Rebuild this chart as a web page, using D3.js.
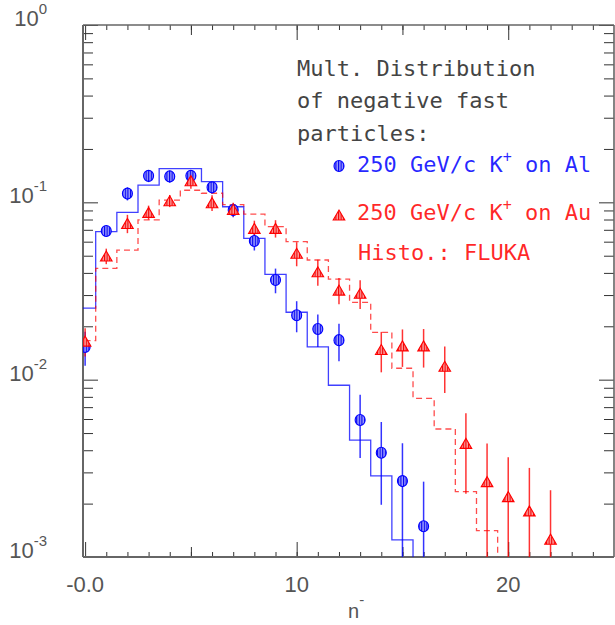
<!DOCTYPE html>
<html><head><meta charset="utf-8">
<script src="https://cdn.jsdelivr.net/npm/d3@7"></script>
<style>body{margin:0;background:#fff}svg{display:block}</style>
</head><body>
<svg id="c" width="615" height="625"></svg>
<script>
// ---- data ----
const blueN    = [0,1,2,3,4,5,6,7,8,9,10,11,12,13,14,15,16];
const blueVals = [0.0153,0.0689,0.112,0.141,0.140,0.141,0.1215,0.0905,0.0605,0.0365,0.0231,0.0193,0.0167,0.00592,0.00387,0.00268,0.00149];
const blueErr  = [0.0033,0.005,0.0095,0.011,0.011,0.011,0.009,0.008,0.007,0.0058,0.0046,0.004,0.004,0.0023,0.0019,0.0017,0.00117];
const redN     = [0,1,2,3,4,5,6,7,8,9,10,11,12,13,14,15,16,17,18,19,20,21,22];
const redVals  = [0.0165,0.0498,0.076,0.0878,0.102,0.1324,0.0995,0.0913,0.0713,0.0713,0.0516,0.0406,0.032,0.0307,0.0148,0.0155,0.0155,0.0119,0.00437,0.00266,0.00219,0.00182,0.00126];
const redErr   = [0.003,0.005,0.009,0.008,0.008,0.013,0.01,0.008,0.0075,0.008,0.008,0.0068,0.0054,0.0057,0.0038,0.0037,0.0038,0.0035,0.0021,0.0017,0.00146,0.00136,0.00112];
// FLUKA histograms, bins centred on integers (width 1)
const blueHist = [0.0253,0.0684,0.0877,0.125,0.155,0.155,0.1307,0.0944,0.0626,0.0392,0.0240,0.0153,0.0093,0.00456,0.00287,0.00125];
const redHist  = [0.0166,0.0424,0.0538,0.0797,0.103,0.117,0.1125,0.097,0.0859,0.073,0.060,0.0473,0.0369,0.0273,0.0185,0.0116,0.00785,0.00527,0.00234,0.00141];
const xTickLabels = [{v:0,t:"-0.0"},{v:10,t:"10"},{v:20,t:"20"}];
const yTickLabels = [{v:1,e:"0"},{v:0.1,e:"-1"},{v:0.01,e:"-2"},{v:0.001,e:"-3"}];
const legendLines = ["Mult. Distribution","of negative fast","particles:"];

// ---- layout ----
const L=83,R=614,T=25,B=557;
const x = d3.scaleLinear().domain([-0.1,25]).range([L,R]);
const y = d3.scaleLog().domain([1e-3,1]).range([B,T]);
const svg = d3.select("#c");
const BLUE="#0000ff", RED="#ff0000", AX="#666";

svg.append("defs").html(`
 <clipPath id="clip"><rect x="${L}" y="${T}" width="${R-L}" height="${B-T}"/></clipPath>
 <pattern id="hb" width="2.6" height="4" patternUnits="userSpaceOnUse"><rect width="2.6" height="4" fill="#9a9aff"/><rect width="1.1" height="4" fill="#0000ee"/></pattern>
 <pattern id="hr" width="2.6" height="4" patternUnits="userSpaceOnUse"><rect width="2.6" height="4" fill="#ff9a9a"/><rect width="1.1" height="4" fill="#ee0000"/></pattern>`);

// ---- axes ticks ----
const units = d3.range(1,25), fives=[5,15], tens=[0,10,20];
function xAxes(gen, sign, ty){
  [[units,5],[fives,10],[tens,15]].forEach(([vals,len])=>{
    const g=svg.append("g").attr("transform",`translate(0,${ty})`)
      .call(gen(x).tickValues(vals).tickSize(sign*len).tickFormat(""));
    g.select(".domain").remove();
    g.selectAll("line").attr("stroke","#333").attr("stroke-width",1);
  });
}
xAxes(d3.axisBottom,-1,B);
xAxes(d3.axisTop,-1,T);
const minorY=[], majorY=[1e-3,1e-2,1e-1,1];
[1e-3,1e-2,1e-1].forEach(d=>{for(let k=2;k<=9;k++)minorY.push(d*k);});
function yAxes(gen, tx){
  [[minorY,10],[majorY,15]].forEach(([vals,len])=>{
    const g=svg.append("g").attr("transform",`translate(${tx},0)`)
      .call(gen(y).tickValues(vals).tickSize(-len).tickFormat(""));
    g.select(".domain").remove();
    g.selectAll("line").attr("stroke","#333").attr("stroke-width",1);
  });
}
yAxes(d3.axisLeft,L);
yAxes(d3.axisRight,R);

// frame
svg.append("line").attr("x1",L).attr("x2",L).attr("y1",T).attr("y2",B).attr("stroke",AX).attr("stroke-width",2);
svg.append("line").attr("x1",L).attr("x2",R).attr("y1",B).attr("y2",B).attr("stroke",AX).attr("stroke-width",2.2);
svg.append("line").attr("x1",L).attr("x2",R).attr("y1",T).attr("y2",T).attr("stroke",AX).attr("stroke-width",1.4);
svg.append("line").attr("x1",R).attr("x2",R).attr("y1",T).attr("y2",B).attr("stroke",AX).attr("stroke-width",1.6);

// tick labels
const lf="'Liberation Sans', Arial, sans-serif";
yTickLabels.forEach(d=>{
  const t=svg.append("text").attr("x",47).attr("y",y(d.v)+1).attr("text-anchor","end")
    .attr("font-family",lf).attr("font-size",22).attr("fill","#555");
  t.append("tspan").text("10");
  t.append("tspan").attr("dy",-12).attr("font-size",15).text(d.e);
});
xTickLabels.forEach(d=>{
  svg.append("text").attr("x",x(d.v)).attr("y",592).attr("text-anchor","middle")
    .attr("font-family",lf).attr("font-size",22).attr("fill","#555").text(d.t);
});
const xt=svg.append("text").attr("x",348).attr("y",618).attr("font-family",lf).attr("font-size",20).attr("fill","#555");
xt.append("tspan").text("n");
xt.append("tspan").attr("dy",-13).attr("font-size",15).text("-");

// ---- histograms ----
const plot=svg.append("g").attr("clip-path","url(#clip)");
function histPts(vals){
  const pts=[];
  vals.forEach((v,i)=>{pts.push([i-0.5,v]);pts.push([i+0.5,v]);});
  pts.push([vals.length-0.5,1e-4]);
  return pts;
}
const ln=d3.line().x(d=>x(d[0])).y(d=>y(d[1]));
plot.append("path").attr("d",ln(histPts(blueHist))).attr("fill","none")
  .attr("stroke",BLUE).attr("stroke-width",1.3).attr("stroke-opacity",0.75);
plot.append("path").attr("d",ln(histPts(redHist))).attr("fill","none")
  .attr("stroke",RED).attr("stroke-width",1.3).attr("stroke-opacity",0.7).attr("stroke-dasharray","6,4");

// ---- error bars ----
function errBars(ns,vals,errs,col){
  plot.selectAll(null).data(ns).enter().append("line")
    .attr("x1",(n)=>x(n)).attr("x2",(n)=>x(n))
    .attr("y1",(n,i)=>y(Math.max(vals[i]-errs[i],1e-4)))
    .attr("y2",(n,i)=>y(vals[i]+errs[i]))
    .attr("stroke",col).attr("stroke-width",1.5).attr("stroke-opacity",0.8);
}
errBars(blueN,blueVals,blueErr,BLUE);
errBars(redN,redVals,redErr,RED);

// ---- markers ----
function circ(g,cx,cy){
  g.append("ellipse").attr("cx",cx).attr("cy",cy).attr("rx",5).attr("ry",5.5)
    .attr("fill","url(#hb)").attr("stroke",BLUE).attr("stroke-width",1.1);
}
function tri(g,cx,cy){
  const w=5.8,h=5;
  g.append("path").attr("d",`M${cx-w},${cy+h}L${cx+w},${cy+h}L${cx},${cy-h}Z`)
    .attr("fill","url(#hr)").attr("stroke",RED).attr("stroke-width",1.1);
}
const mk=svg.append("g").attr("clip-path","url(#clip)");
blueN.forEach((n,i)=>circ(mk,x(n),y(blueVals[i])));
redN.forEach((n,i)=>tri(mk,x(n),y(redVals[i])));

// ---- legend ----
const mf="'DejaVu Sans Mono', monospace";
legendLines.forEach((s,i)=>{
  svg.append("text").attr("x",297).attr("y",[76,108,141][i]).attr("font-family",mf)
    .attr("font-size",22).attr("fill","#444").attr("xml:space","preserve").text(s);
});
function legEntry(col,yy,label1,label2){
  const t=svg.append("text").attr("x",357).attr("y",yy).attr("font-family",mf)
    .attr("font-size",22).attr("fill",col).attr("fill-opacity",0.85).attr("xml:space","preserve");
  t.append("tspan").text(label1);
  t.append("tspan").attr("dy",-10).attr("font-size",15).text("+");
  t.append("tspan").attr("dy",10).text(label2);
}
circ(svg,339,166);
legEntry(BLUE,172,"250 GeV/c K"," on Al");
tri(svg,339,215);
legEntry(RED,220,"250 GeV/c K"," on Au");
svg.append("text").attr("x",358).attr("y",260).attr("font-family",mf).attr("font-size",22)
  .attr("fill",RED).attr("fill-opacity",0.85).attr("xml:space","preserve").text("Histo.: FLUKA");
</script>
</body></html>
